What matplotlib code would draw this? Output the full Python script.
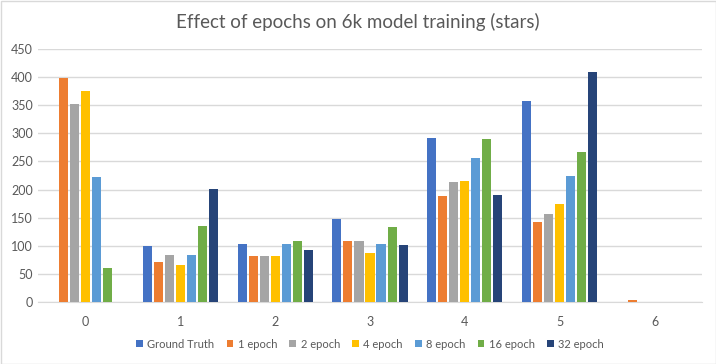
import numpy as np
import matplotlib.pyplot as plt

categories = ["0", "1", "2", "3", "4", "5", "6"]
series_names = ["Ground Truth", "1 epoch", "2 epoch", "4 epoch", "8 epoch", "16 epoch", "32 epoch"]
ground_truth = [0, 99, 104, 147, 292, 358, 0]
epoch_1 = [399, 72, 81, 108, 189, 143, 4]
epoch_2 = [352, 84, 81, 108, 214, 157, 0]
epoch_4 = [375, 65, 81, 87, 216, 175, 0]
epoch_8 = [223, 84, 104, 104, 257, 225, 0]
epoch_16 = [61, 136, 109, 134, 290, 267, 0]
epoch_32 = [0, 201, 93, 102, 191, 409, 0]
colors = ["#4472C4", "#ED7D31", "#A5A5A5", "#FFC000", "#5B9BD5", "#70AD47", "#264478"]

plt.rcParams['font.family'] = ['Lato', 'DejaVu Sans']

fig = plt.figure(figsize=(7.16, 3.64), dpi=100)
ax = fig.add_axes([38 / 716, 1 - 302 / 364, 664 / 716, 253 / 364])

data = [ground_truth, epoch_1, epoch_2, epoch_4, epoch_8, epoch_16, epoch_32]
x = np.arange(len(categories))
step = 0.116
width = 0.095
for i, (name, vals) in enumerate(zip(series_names, data)):
    ax.bar(x + (i - 3) * step, vals, width=width, color=colors[i], label=name, zorder=3)

ax.set_xlim(-0.5, len(categories) - 0.5)
ax.set_ylim(0, 450)
ax.set_yticks(range(0, 451, 50))
ax.set_xticks(x)
ax.set_xticklabels(categories)
ax.grid(axis="y", color="#D9D9D9", linewidth=1, zorder=0)
for s in ["top", "right", "left"]:
    ax.spines[s].set_visible(False)
ax.spines["bottom"].set_color("#D9D9D9")
ax.tick_params(length=0, labelsize=9, colors="#595959")
ax.tick_params(axis="x", pad=10)

fig.suptitle("Effect of epochs on 6k model training (stars)", y=1 - 22 / 364, va="center",
             fontsize=13.5, color="#595959")
ax.legend(loc="center", bbox_to_anchor=(0.5, -42 / 253), ncol=7, frameon=False,
          fontsize=8, labelcolor="#595959", handlelength=0.6, handleheight=0.6,
          handletextpad=0.4, columnspacing=1.1)

fig.patches.append(plt.Rectangle((0.5 / 716, 0.5 / 364), 715 / 716, 363 / 364, transform=fig.transFigure,
                                 fill=False, edgecolor="#D9D9D9", linewidth=1))
fig.savefig("out.png", dpi=100)
